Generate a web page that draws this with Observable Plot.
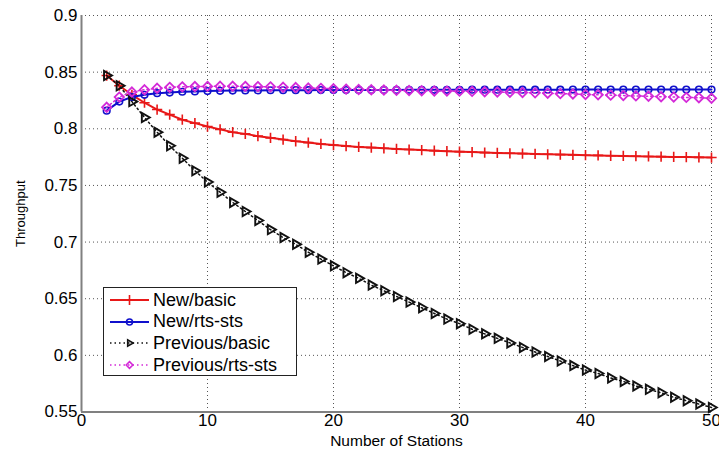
<!DOCTYPE html>
<html><head><meta charset="utf-8">
<script src="https://cdn.jsdelivr.net/npm/d3@7"></script>
<script src="https://cdn.jsdelivr.net/npm/@observablehq/plot@0.6"></script>
<style>
body{margin:0;background:#fff;}
#wrap{position:relative;width:719px;height:451px;font-family:"Liberation Sans",Arial,sans-serif;}
#legend{position:absolute;left:103px;top:287px;width:194px;height:89px;border:1px solid #222;background:#fff;box-sizing:border-box;}
.row{position:absolute;left:0;height:22px;display:flex;align-items:center;font-size:18px;color:#000;white-space:nowrap;}
.row svg{display:block;margin-right:3px;}
</style></head>
<body><div id="wrap"></div>
<script>
const stations = [2,3,4,5,6,7,8,9,10,11,12,13,14,15,16,17,18,19,20,21,22,23,24,25,26,27,28,29,30,31,32,33,34,35,36,37,38,39,40,41,42,43,44,45,46,47,48,49,50];
const newBasic = [0.847,0.838,0.830,0.823,0.817,0.8125,0.808,0.805,0.802,0.7995,0.797,0.7955,0.7935,0.792,0.7905,0.789,0.7878,0.7866,0.7856,0.7847,0.7840,0.7834,0.7828,0.7822,0.7817,0.7812,0.7807,0.7802,0.7798,0.7794,0.7790,0.7787,0.7784,0.7781,0.7778,0.7775,0.7772,0.7770,0.7767,0.7765,0.7762,0.7760,0.7758,0.7756,0.7754,0.7752,0.7750,0.7748,0.7746];
const newRts = [0.816,0.824,0.828,0.830,0.8314,0.832,0.8327,0.833,0.8333,0.8335,0.8337,0.8338,0.8339,0.834,0.834,0.8341,0.8341,0.8342,0.8342,0.8342,0.8343,0.8343,0.8343,0.8343,0.8344,0.8344,0.8344,0.8344,0.8344,0.8345,0.8345,0.8345,0.8345,0.8345,0.8345,0.8345,0.8345,0.8346,0.8346,0.8346,0.8346,0.8346,0.8346,0.8346,0.8346,0.8346,0.8346,0.8346,0.8346];
const prevBasic = [0.847,0.838,0.824,0.810,0.797,0.785,0.774,0.763,0.753,0.744,0.735,0.727,0.719,0.711,0.704,0.698,0.691,0.685,0.679,0.673,0.668,0.662,0.657,0.652,0.647,0.642,0.637,0.632,0.628,0.623,0.619,0.615,0.611,0.607,0.603,0.599,0.595,0.591,0.587,0.584,0.580,0.577,0.573,0.570,0.567,0.563,0.560,0.557,0.554];
const prevRts = [0.819,0.828,0.8325,0.8345,0.8358,0.8366,0.837,0.8373,0.8374,0.8375,0.8375,0.8374,0.8372,0.837,0.8367,0.8364,0.836,0.8357,0.8354,0.835,0.8347,0.8345,0.8342,0.834,0.8338,0.8336,0.8334,0.8333,0.8332,0.833,0.8327,0.8325,0.8322,0.832,0.8317,0.8314,0.831,0.8307,0.8303,0.83,0.8297,0.8293,0.829,0.8287,0.8283,0.828,0.8277,0.8274,0.827];
const seriesNames = ["New/basic","New/rts-sts","Previous/basic","Previous/rts-sts"];
const xTicks = [0,10,20,30,40,50];
const yTicks = [0.55,0.6,0.65,0.7,0.75,0.8,0.85,0.9];
const xLabel = "Number of Stations";
const yLabel = "Throughput";

const colors = {red:"#e81818", blue:"#1010cc", black:"#111", magenta:"#d42ad8"};
const mk = vals => stations.map((x,i)=>({x, y: vals[i]}));
const dNB = mk(newBasic), dNR = mk(newRts), dPB = mk(prevBasic), dPR = mk(prevRts);

const fmt = d => String(+d.toFixed(2));
const font = '"Liberation Sans", Arial, sans-serif';

const chart = Plot.plot({
  width: 719, height: 451,
  marginLeft: 81, marginRight: 8, marginTop: 15, marginBottom: 39.5,
  style: {fontFamily: font, background: "#fff", color: "#000"},
  x: {domain: [0, 50]},
  y: {domain: [0.55, 0.9]},
  marks: [
    Plot.gridX(xTicks, {stroke: "#555", strokeOpacity: 1, strokeWidth: 1, strokeDasharray: "1,3"}),
    Plot.gridY(yTicks, {stroke: "#555", strokeOpacity: 1, strokeWidth: 1, strokeDasharray: "1,3"}),
    Plot.ruleX([xTicks[0]], {stroke: "#808080", strokeWidth: 2}),
    Plot.ruleY([yTicks[0]], {stroke: "#808080", strokeWidth: 2}),
    Plot.axisX({ticks: xTicks, tickSize: 0, tickPadding: 2, fontSize: 17, tickFormat: d => String(d), label: null}),
    Plot.axisY({ticks: yTicks, tickSize: 0, tickPadding: 4, fontSize: 17, tickFormat: fmt, label: null}),
    Plot.text([yLabel], {frameAnchor: "left", dx: -61, rotate: -90, fontSize: 13, lineAnchor: "middle", textAnchor: "middle"}),
    Plot.text([xLabel], {frameAnchor: "bottom", dy: 29, fontSize: 15.5, lineAnchor: "middle", textAnchor: "middle"}),
    // New/basic
    Plot.line(dNB, {x: "x", y: "y", stroke: colors.red, strokeWidth: 2}),
    Plot.dot(dNB, {x: "x", y: "y", symbol: "plus", r: 3.4, stroke: colors.red, strokeWidth: 1.6}),
    // New/rts-sts
    Plot.line(dNR, {x: "x", y: "y", stroke: colors.blue, strokeWidth: 2}),
    Plot.dot(dNR, {x: "x", y: "y", symbol: "circle", r: 3.3, stroke: colors.blue, fill: "none", strokeWidth: 1.6}),
    // Previous/basic
    Plot.line(dPB, {x: "x", y: "y", stroke: colors.black, strokeWidth: 1.5, strokeDasharray: "1.5,3"}),
    Plot.dot(dPB, {x: "x", y: "y", symbol: "triangle2", rotate: 90, r: 4.4, stroke: colors.black, fill: "none", strokeWidth: 1.9}),
    // Previous/rts-sts
    Plot.line(dPR, {x: "x", y: "y", stroke: colors.magenta, strokeWidth: 1.5, strokeDasharray: "1.5,3"}),
    Plot.dot(dPR, {x: "x", y: "y", symbol: "diamond2", r: 4.2, stroke: colors.magenta, fill: "none", strokeWidth: 1.8})
  ]
});
const wrap = document.getElementById("wrap");
wrap.appendChild(chart);

// legend
const legend = document.createElement("div");
legend.id = "legend";
const items = [
  {name: seriesNames[0], color: colors.red, dash: null, sym: d3.symbolPlus, rot: 0},
  {name: seriesNames[1], color: colors.blue, dash: null, sym: d3.symbolCircle, rot: 0},
  {name: seriesNames[2], color: colors.black, dash: "1.5,3", sym: d3.symbolTriangle2, rot: 90},
  {name: seriesNames[3], color: colors.magenta, dash: "1.5,3", sym: d3.symbolDiamond2, rot: 0}
];
items.forEach((it, i) => {
  const row = document.createElement("div");
  row.className = "row";
  row.style.top = (1 + 21.7 * i) + "px";
  const svg = d3.create("svg").attr("width", 46).attr("height", 22);
  svg.append("line").attr("x1", 6).attr("x2", 45).attr("y1", 11).attr("y2", 11)
    .attr("stroke", it.color).attr("stroke-width", it.dash ? 1.5 : 2).attr("stroke-dasharray", it.dash);
  const size = it.sym === d3.symbolPlus ? 36 : 28;
  svg.append("path").attr("d", d3.symbol(it.sym, size)())
    .attr("transform", `translate(25.5,11) rotate(${it.rot})`)
    .attr("fill", "none").attr("stroke", it.color).attr("stroke-width", 1.6);
  row.appendChild(svg.node());
  const span = document.createElement("span");
  span.textContent = it.name;
  row.appendChild(span);
  legend.appendChild(row);
});
wrap.appendChild(legend);
</script></body></html>
